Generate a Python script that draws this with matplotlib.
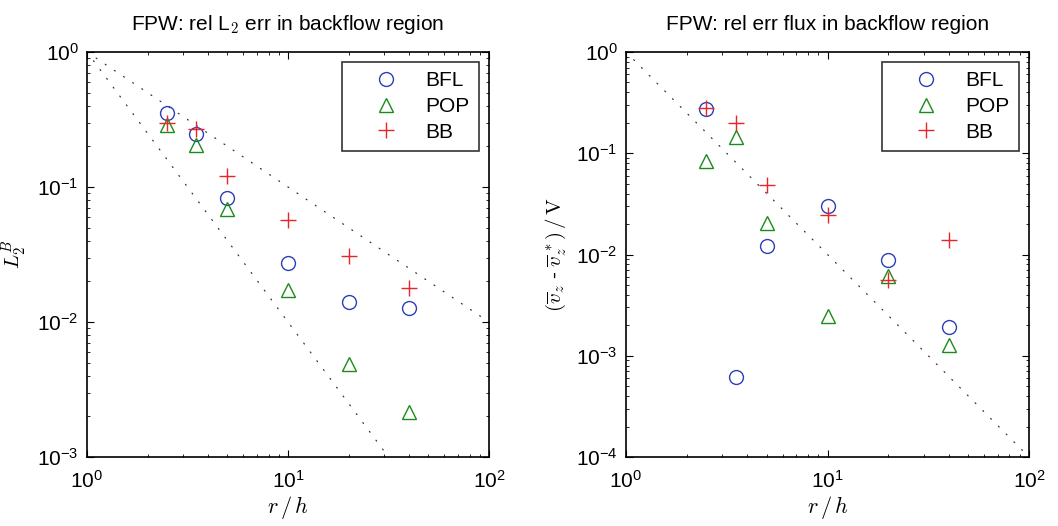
import matplotlib
matplotlib.use('Agg')
import matplotlib.pyplot as plt
import numpy as np

plt.rcParams['font.family'] = ['Liberation Sans', 'DejaVu Sans']
plt.rcParams['mathtext.fontset'] = 'cm'

rh = [2.5, 3.5, 5, 10, 20, 40]

# left panel: relative L2 error in backflow region
l2_bfl = [0.352, 0.245, 0.0826, 0.0275, 0.0140, 0.0128]
l2_pop = [0.29, 0.203, 0.0684, 0.0172, 0.00492, 0.00216]
l2_bb = [0.30, 0.268, 0.121, 0.057, 0.0308, 0.018]

# right panel: relative error of flux
fx_bfl = [0.275, 0.00061, 0.0121, 0.0302, 0.00883, 0.00193]
fx_pop = [0.084, 0.145, 0.0203, 0.00246, 0.00612, 0.00128]
fx_bb = [0.277, 0.198, 0.0483, 0.0246, 0.0056, 0.0139]

ref_x = [1, 100]

blue = '#2b3fb8'
green = '#1a8c1a'
red = '#e8262a'

fig = plt.figure(figsize=(10.58, 5.26), dpi=100)
ax1 = fig.add_axes([87/1058, 1-457/526, 402/1058, 405/526])
ax2 = fig.add_axes([626/1058, 1-457/526, 403/1058, 405/526])

def panel(ax, bfl, pop, bb, ylim, slopes, title, ylabel):
    for p in slopes:
        ax.plot(ref_x, [1/x**p for x in ref_x], color='#333333', lw=0.9,
                linestyle=(0, (0.8, 8)), dash_capstyle='round')
    ax.plot(rh, bfl, 'o', ms=10, mfc='none', mec=blue, mew=1.0, ls='none', label='BFL')
    ax.plot(rh, pop, '^', ms=10, mfc='none', mec=green, mew=1.0, ls='none', label='POP')
    ax.plot(rh, bb, '+', ms=11, mec=red, mew=1.0, ls='none', label='BB')
    ax.set_xscale('log')
    ax.set_yscale('log')
    ax.set_xlim(1, 100)
    ax.set_ylim(*ylim)
    ax.tick_params(which='both', direction='in', top=True, right=True, labelsize=15)
    ax.tick_params(axis='x', which='major', pad=9)
    ax.tick_params(axis='y', which='major', pad=6)
    ax.tick_params(which='major', length=5, width=0.8)
    ax.tick_params(which='minor', length=2.5, width=0.6)
    for s in ax.spines.values():
        s.set_linewidth(1.2)
    ax.set_title(title, fontsize=15, pad=16)
    ax.set_xlabel(r'$r\,/\,h$', fontsize=16, labelpad=2)
    ax.set_ylabel(ylabel, fontsize=15, labelpad=6)
    leg = ax.legend(loc='upper right', fontsize=15, frameon=True, fancybox=False,
                    edgecolor='black', borderpad=0.45, handletextpad=0.25,
                    labelspacing=0.32, borderaxespad=0.48, handlelength=3.3)
    leg.get_frame().set_linewidth(1.2)

panel(ax1, l2_bfl, l2_pop, l2_bb, (1e-3, 1), [1, 2],
      r'FPW: rel L$_2$ err in backflow region', r'$L_2^B$')
panel(ax2, fx_bfl, fx_pop, fx_bb, (1e-4, 1), [2],
      'FPW: rel err flux in backflow region',
      r'$(\overline{v}_z$ - $\overline{v}_z^{\,*})\,/\,\mathrm{V}$')

fig.savefig('out.png', dpi=100)
